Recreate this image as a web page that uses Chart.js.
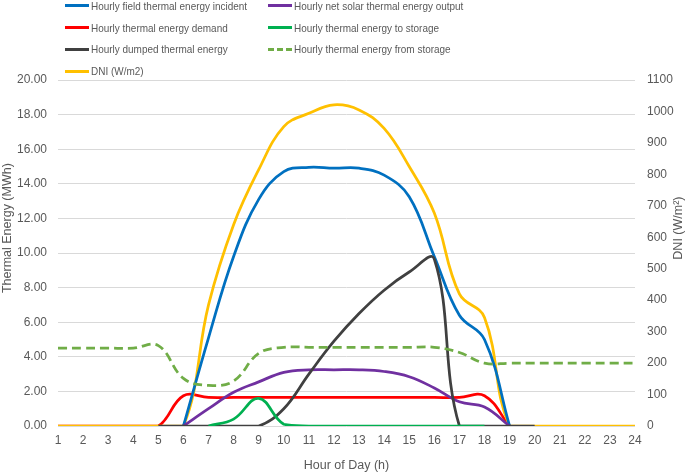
<!DOCTYPE html>
<html>
<head>
<meta charset="utf-8">
<script src="https://cdn.jsdelivr.net/npm/chart.js@4/dist/chart.umd.min.js"></script>
<style>
  html, body { margin: 0; padding: 0; background: #fff; }
  #wrap { position: relative; width: 685px; height: 473px; }
  #legend {
    position: absolute; left: 65px; top: -5px;
    display: grid; grid-template-columns: 203px 260px;
    font-family: 'Liberation Sans', Arial, sans-serif; font-size: 11.5px; color: #595959;
  }
  .item { height: 21.8px; display: flex; align-items: center; white-space: nowrap; }
  .swatch { width: 24px; height: 0; margin-right: 2px; border-top: 3px solid; flex: none; }
  .lbl { display: inline-block; transform: scaleX(0.866); transform-origin: left center; }
</style>
</head>
<body>
<div id="wrap">
  <canvas id="c" width="685" height="473"></canvas>
  <div id="legend"></div>
</div>
<script>
// 時刻
const hours = ['1','2','3','4','5','6','7','8','9','10','11','12','13','14','15','16','17','18','19','20','21','22','23','24']

// MWh (左軸)
const fieldIncident = [null,null,null,null,null,0,5.1,9.8,13.1,14.7,14.95,14.9,14.9,14.5,13.25,9.8,6.4,5.0,0,null,null,null,null,null]
const netSolarOutput = [null,null,null,null,null,0,1.0,1.95,2.55,3.1,3.25,3.25,3.25,3.15,2.85,2.2,1.4,1.1,0,null,null,null,null,null]
const demand = [0,0,0,0,0,1.75,1.65,1.65,1.65,1.65,1.65,1.65,1.65,1.65,1.65,1.65,1.65,1.75,0,null,null,null,null,null]
const toStorage = [null,null,null,null,null,null,0,0.4,1.6,0.1,0,0,0,0,0,0,0,0,null,null,null,null,null,null]
const dumped = [null,null,null,null,0,0,0,0,0,1.0,3.0,4.9,6.5,7.85,8.9,9.65,0,0,0,0,null,null,null,null]
const fromStorage = [4.5,4.5,4.5,4.5,4.65,2.75,2.35,2.6,4.2,4.55,4.55,4.55,4.55,4.55,4.55,4.55,4.25,3.63,3.63,3.63,3.63,3.63,3.63,3.63]

// W/m2 (右軸)
const dni = [0,0,0,0,0,0,385,640,815,952,994,1021,1005,946,825,677,420,345,0,0,0,0,0,0]

const textColor = '#595959'
const fontFam = "'Liberation Sans', Arial, sans-serif"

function makeSet(label, data, color, axis, order, dash){
    return {
        label: label,
        data: data,
        borderColor: color,
        backgroundColor: color,
        borderWidth: 2.75,
        borderDash: dash || [],
        tension: 0.4,
        pointRadius: 0,
        pointHoverRadius: 0,
        fill: false,
        yAxisID: axis,
        order: order
    }
}

// 凡例の順番 (行ごと)
const datasets = [
    makeSet('Hourly field thermal energy incident', fieldIncident, '#0070C0', 'y', 5),
    makeSet('Hourly net solar thermal energy output', netSolarOutput, '#7030A0', 'y', 4),
    makeSet('Hourly thermal energy demand', demand, '#FF0000', 'y', 7),
    makeSet('Hourly thermal energy to storage', toStorage, '#00B050', 'y', 2),
    makeSet('Hourly dumped thermal energy', dumped, '#404040', 'y', 3),
    makeSet('Hourly thermal energy from storage', fromStorage, '#70AD47', 'y', 1, [9, 5]),
    makeSet('DNI (W/m2)', dni, '#FFC000', 'y2', 6)
]

const yTitles = {
    id: 'yTitles',
    afterDraw(chart){
        const ctx = chart.ctx
        const area = chart.chartArea
        const cy = area.top + area.height * 0.428
        ctx.save()
        ctx.fillStyle = textColor
        ctx.font = "12.5px " + fontFam
        ctx.textAlign = 'center'
        ctx.textBaseline = 'middle'
        ctx.translate(8, cy)
        ctx.rotate(-Math.PI/2)
        ctx.fillText('Thermal Energy (MWh)', 0, 0)
        ctx.restore()
        ctx.save()
        ctx.fillStyle = textColor
        ctx.font = "12.5px " + fontFam
        ctx.textAlign = 'center'
        ctx.textBaseline = 'middle'
        ctx.translate(679, cy)
        ctx.rotate(-Math.PI/2)
        ctx.fillText('DNI (W/m\u00B2)', 0, 0)
        ctx.restore()
    }
}

const chart = new Chart(document.getElementById('c'), {
    type: 'line',
    data: { labels: hours, datasets: datasets },
    options: {
        responsive: false,
        animation: false,
        layout: { padding: { top: 80, left: 0, right: 0, bottom: 0 } },
        plugins: { legend: { display: false }, tooltip: { enabled: false } },
        scales: {
            x: {
                offset: false,
                grid: { display: false, drawTicks: false },
                border: { display: false },
                ticks: { color: textColor, font: { family: fontFam, size: 12 }, padding: 7, maxRotation: 0, autoSkip: false },
                title: { display: true, text: 'Hour of Day (h)', color: textColor, font: { family: fontFam, size: 12.5 }, padding: { top: 9, bottom: 0 } },
                afterFit: s => { s.height = 47 }
            },
            y: {
                position: 'left',
                min: 0, max: 20,
                grid: { color: '#D9D9D9', lineWidth: 1, drawTicks: false },
                border: { display: false },
                ticks: { stepSize: 2, color: textColor, font: { family: fontFam, size: 12 }, padding: 11, callback: v => Number(v).toFixed(2) },
                afterFit: s => { s.width = 58 }
            },
            y2: {
                position: 'right',
                min: 0, max: 1100,
                grid: { display: false, drawTicks: false },
                border: { display: false },
                ticks: { stepSize: 100, color: textColor, font: { family: fontFam, size: 12 }, padding: 12, callback: v => String(v) },
                afterFit: s => { s.width = 50 }
            }
        }
    },
    plugins: [yTitles]
})

// HTML凡例
const legend = document.getElementById('legend')
datasets.forEach(ds => {
    const item = document.createElement('div')
    item.className = 'item'
    const sw = document.createElement('span')
    sw.className = 'swatch'
    sw.style.borderTopColor = ds.borderColor
    if(ds.borderDash.length){
        sw.style.borderTopStyle = 'dashed'
    }
    const lbl = document.createElement('span')
    lbl.className = 'lbl'
    lbl.textContent = ds.label
    item.appendChild(sw)
    item.appendChild(lbl)
    legend.appendChild(item)
})
</script>
</body>
</html>
